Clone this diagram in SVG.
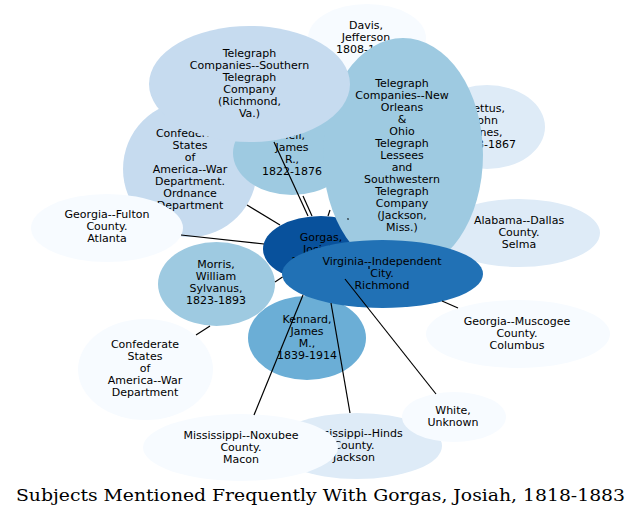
<svg xmlns="http://www.w3.org/2000/svg" width="641" height="518" viewBox="0 0 641 518">
<style>
text{font-family:"DejaVu Sans","Liberation Sans",sans-serif;font-size:11px;fill:#000;text-anchor:middle}
.t{font-family:"DejaVu Serif","Liberation Serif",serif;font-size:16.5px}
.c1{fill:#f7fbff}.c2{fill:#deebf7}.c3{fill:#c6dbef}.c4{fill:#9ecae1}.c5{fill:#6baed6}.c7{fill:#2171b5}.c8{fill:#08519c}
.e{stroke:#000;stroke-width:1.2;fill:none}
</style>
<rect width="641" height="518" fill="#fff"/>
<g id="nodes">
<g id="davis"><ellipse class="c1" cx="367" cy="38" rx="59" ry="34"/><text x="366" y="29">Davis,</text><text x="366" y="41">Jefferson</text><text x="366" y="53">1808-1889</text></g>
<g id="pettus"><ellipse class="c2" cx="487" cy="127" rx="58" ry="42"/><text x="486" y="112">Pettus,</text><text x="486" y="124">John</text><text x="486" y="136">Jones,</text><text x="486" y="148">1813-1867</text></g>
<g id="alabama"><ellipse class="c2" cx="519" cy="233" rx="81" ry="34"/><text x="519" y="224">Alabama--Dallas</text><text x="519" y="236">County.</text><text x="519" y="248">Selma</text></g>
<g id="ordnance"><ellipse class="c3" cx="190" cy="169" rx="67" ry="68"/><text x="190" y="137">Confederate</text><text x="190" y="149">States</text><text x="190" y="161">of</text><text x="190" y="173">America--War</text><text x="190" y="185">Department.</text><text x="190" y="197">Ordnance</text><text x="190" y="209">Department</text></g>
<g id="fulton"><ellipse class="c1" cx="107" cy="228" rx="76" ry="34"/><text x="107" y="218">Georgia--Fulton</text><text x="107" y="230">County.</text><text x="107" y="242">Atlanta</text></g>
<g id="mell"><ellipse class="c4" cx="292" cy="153" rx="59" ry="42"/><text x="292" y="139">Mell,</text><text x="292" y="151">James</text><text x="292" y="163">R.,</text><text x="292" y="175">1822-1876</text></g>
<g id="gorgas"><ellipse class="c8" cx="321" cy="249" rx="58" ry="33"/><text x="321" y="241">Gorgas,</text><text x="321" y="253">Josiah,</text><text x="321" y="265">1818-1883</text></g>
<g id="neworleans"><ellipse class="c4" cx="403" cy="155" rx="80" ry="117"/><text x="402" y="87">Telegraph</text><text x="402" y="99">Companies--New</text><text x="402" y="111">Orleans</text><text x="402" y="123">&amp;</text><text x="402" y="135">Ohio</text><text x="402" y="147">Telegraph</text><text x="402" y="159">Lessees</text><text x="402" y="171">and</text><text x="402" y="183">Southwestern</text><text x="402" y="195">Telegraph</text><text x="402" y="207">Company</text><text x="402" y="219">(Jackson,</text><text x="402" y="231">Miss.)</text></g>
<g id="southern"><ellipse class="c3" cx="249.5" cy="84" rx="100.5" ry="58"/><text x="249.5" y="57">Telegraph</text><text x="249.5" y="69">Companies--Southern</text><text x="249.5" y="81">Telegraph</text><text x="249.5" y="93">Company</text><text x="249.5" y="105">(Richmond,</text><text x="249.5" y="117">Va.)</text></g>
<g id="kennard"><ellipse class="c5" cx="307" cy="338" rx="59" ry="42"/><text x="307" y="323">Kennard,</text><text x="307" y="335">James</text><text x="307" y="347">M.,</text><text x="307" y="359">1839-1914</text></g>
<g id="morris"><ellipse class="c4" cx="216.5" cy="284" rx="58.5" ry="42"/><text x="216" y="268">Morris,</text><text x="216" y="280">William</text><text x="216" y="292">Sylvanus,</text><text x="216" y="304">1823-1893</text></g>
<g id="virginia"><ellipse class="c7" cx="382.5" cy="274" rx="100.5" ry="34"/><text x="382" y="265">Virginia--Independent</text><text x="382" y="277">City.</text><text x="382" y="289">Richmond</text></g>
<g id="muscogee"><ellipse class="c1" cx="518" cy="334" rx="92" ry="34"/><text x="517" y="325">Georgia--Muscogee</text><text x="517" y="337">County.</text><text x="517" y="349">Columbus</text></g>
<g id="cwd"><ellipse class="c1" cx="145.5" cy="369.5" rx="67.5" ry="50.5"/><text x="145" y="348">Confederate</text><text x="145" y="360">States</text><text x="145" y="372">of</text><text x="145" y="384">America--War</text><text x="145" y="396">Department</text></g>
<g id="hinds"><ellipse class="c2" cx="357" cy="446" rx="85" ry="33"/><text x="354" y="437">Mississippi--Hinds</text><text x="354" y="449">County.</text><text x="354" y="461">Jackson</text></g>
<g id="noxubee"><ellipse class="c1" cx="240.5" cy="447.5" rx="97.5" ry="33.5"/><text x="241" y="439">Mississippi--Noxubee</text><text x="241" y="451">County.</text><text x="241" y="463">Macon</text></g>
<g id="white"><ellipse class="c1" cx="454" cy="417" rx="52" ry="25"/><text x="453" y="414">White,</text><text x="453" y="426">Unknown</text></g>
</g>
<g id="edges" class="e">
<line x1="274" y1="142" x2="308" y2="216"/>
<line x1="303" y1="196" x2="312" y2="216"/>
<line x1="247" y1="205" x2="280" y2="225"/>
<line x1="181" y1="235" x2="264" y2="244"/>
<line x1="275" y1="282" x2="282.5" y2="277"/>
<line x1="196" y1="335" x2="210" y2="326"/>
<line x1="303" y1="295" x2="254" y2="415"/>
<line x1="331" y1="303" x2="350" y2="413"/>
<line x1="345" y1="279" x2="436" y2="394"/>
<line x1="442" y1="301" x2="458" y2="308"/>
<line x1="328" y1="216" x2="330" y2="210"/>
<line x1="347.5" y1="218.5" x2="348.5" y2="219.5"/>
<line x1="369" y1="266" x2="369" y2="269"/>
</g>
<text class="t" x="320.5" y="501" textLength="609" lengthAdjust="spacingAndGlyphs">Subjects Mentioned Frequently With Gorgas, Josiah, 1818-1883</text>
</svg>
